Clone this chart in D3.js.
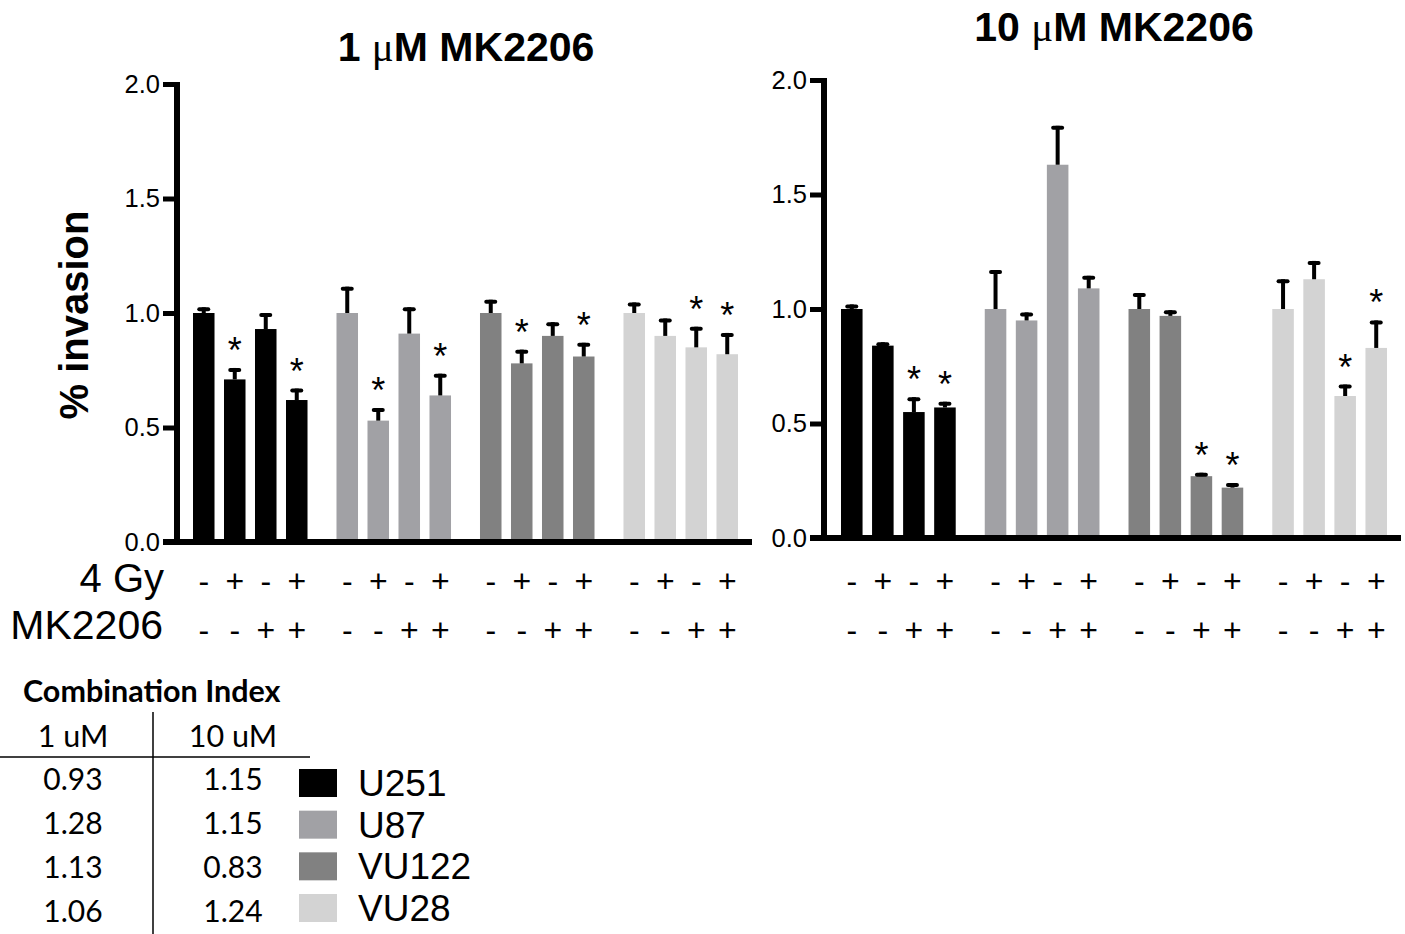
<!DOCTYPE html>
<html>
<head>
<meta charset="utf-8">
<script src="https://cdn.jsdelivr.net/npm/d3@7"></script>
<style>
  html, body { margin: 0; padding: 0; background: #fff; }
  svg { display: block; }
</style>
</head>
<body>
<svg id="chart" width="1405" height="934"></svg>
<script>
// cell lines and treatment rows
const cellLines = ["U251", "U87", "VU122", "VU28"];
const gyRow = ["-", "+", "-", "+"];
const mkRow = ["-", "-", "+", "+"];
const yTicks = [0.0, 0.5, 1.0, 1.5, 2.0];

// 1 uM MK2206: mean and upper error per cell line (4 conditions each)
const mean1uM = [
  [1.00, 0.71, 0.93, 0.62],
  [1.00, 0.53, 0.91, 0.64],
  [1.00, 0.78, 0.90, 0.81],
  [1.00, 0.90, 0.85, 0.82]
];
const err1uM = [
  [0.025, 0.05, 0.07, 0.05],
  [0.115, 0.055, 0.115, 0.095],
  [0.058, 0.06, 0.06, 0.06],
  [0.046, 0.076, 0.09, 0.093]
];
const star1uM = [
  [0, 1, 0, 1],
  [0, 1, 0, 1],
  [0, 1, 0, 1],
  [0, 0, 1, 1]
];

// 10 uM MK2206
const mean10uM = [
  [1.00, 0.84, 0.55, 0.57],
  [1.00, 0.95, 1.63, 1.09],
  [1.00, 0.97, 0.27, 0.22],
  [1.00, 1.13, 0.62, 0.83]
];
const err10uM = [
  [0.02, 0.015, 0.065, 0.025],
  [0.17, 0.035, 0.17, 0.055],
  [0.07, 0.025, 0.015, 0.02],
  [0.13, 0.08, 0.05, 0.12]
];
const star10uM = [
  [0, 0, 1, 1],
  [0, 0, 0, 0],
  [0, 0, 1, 1],
  [0, 0, 1, 1]
];

// combination index table
const ciHeaders = ["1 uM", "10 uM"];
const ci1uM = ["0.93", "1.28", "1.13", "1.06"];
const ci10uM = ["1.15", "1.15", "0.83", "1.24"];

const colors = ["#000000", "#a1a1a5", "#818181", "#d3d3d3"];
const sans = "'Liberation Sans', Arial, sans-serif";

const svg = d3.select("#chart");

function drawPanel(opt) {
  const g = svg.append("g");

  const y = d3.scaleLinear().domain([0, 2]).range([opt.y0, opt.y2]);

  const outer = d3.scaleBand()
    .domain(cellLines)
    .range([opt.x0, opt.x1])
    .paddingInner(0.202);

  const inner = d3.scaleBand()
    .domain(d3.range(4))
    .range([0, outer.bandwidth()])
    .paddingInner(0.306);

  const rows = [];
  cellLines.forEach((c, ci) => {
    d3.range(4).forEach(k => {
      rows.push({
        line: c, ci, k,
        value: opt.means[ci][k],
        err: opt.errs[ci][k],
        star: opt.stars[ci][k],
        x: outer(c) + inner(k)
      });
    });
  });

  const bw = inner.bandwidth();

  // bars
  g.selectAll("rect.bar").data(rows).join("rect")
    .attr("class", "bar")
    .attr("x", d => d.x)
    .attr("y", d => y(d.value))
    .attr("width", bw)
    .attr("height", d => y(0) - y(d.value))
    .attr("fill", d => colors[d.ci]);

  // error bars (upper only)
  g.selectAll("line.err").data(rows).join("line")
    .attr("class", "err")
    .attr("x1", d => d.x + bw / 2).attr("x2", d => d.x + bw / 2)
    .attr("y1", d => y(d.value))
    .attr("y2", d => y(d.value + d.err))
    .attr("stroke", "#000")
    .attr("stroke-width", 4);

  g.selectAll("line.cap").data(rows).join("line")
    .attr("class", "cap")
    .attr("x1", d => d.x + bw / 2 - 4.5).attr("x2", d => d.x + bw / 2 + 4.5)
    .attr("y1", d => y(d.value + d.err) + 2)
    .attr("y2", d => y(d.value + d.err) + 2)
    .attr("stroke", "#000")
    .attr("stroke-linecap", "round")
    .attr("stroke-width", 4);

  // significance marks
  g.selectAll("text.star").data(rows.filter(d => d.star)).join("text")
    .attr("class", "star")
    .attr("x", d => d.x + bw / 2)
    .attr("y", d => y(d.value + d.err) - 5)
    .attr("text-anchor", "middle")
    .style("font-family", sans)
    .style("font-size", "36px")
    .text("*");

  // y axis
  const yAxis = d3.axisLeft(y)
    .tickValues(yTicks)
    .tickFormat(d3.format(".1f"))
    .tickSize(14)
    .tickSizeOuter(0)
    .tickPadding(3);

  const ax = g.append("g")
    .attr("transform", `translate(${opt.axisX},0)`)
    .call(yAxis);
  ax.select(".domain").attr("stroke-width", 6).attr("d", `M0,${opt.y0}V${opt.y2 - 2}`);
  ax.selectAll(".tick line").attr("stroke-width", 5);
  ax.selectAll(".tick text")
    .style("font-family", sans)
    .style("font-size", "25.5px")
    .attr("fill", "#000");

  // x axis baseline
  g.append("line")
    .attr("x1", opt.xStart).attr("x2", opt.xEnd)
    .attr("y1", y(0)).attr("y2", y(0))
    .attr("stroke", "#000")
    .attr("stroke-width", 6);

  // treatment signs
  g.selectAll("text.gy").data(rows).join("text")
    .attr("class", "gy")
    .attr("x", d => d.x + bw / 2)
    .attr("y", 592)
    .attr("text-anchor", "middle")
    .style("font-family", sans)
    .style("font-size", "32px")
    .text(d => gyRow[d.k]);

  g.selectAll("text.mk").data(rows).join("text")
    .attr("class", "mk")
    .attr("x", d => d.x + bw / 2)
    .attr("y", 641)
    .attr("text-anchor", "middle")
    .style("font-family", sans)
    .style("font-size", "32px")
    .text(d => mkRow[d.k]);

  // title
  const t = g.append("text")
    .attr("x", opt.titleX)
    .attr("y", opt.titleY)
    .attr("text-anchor", "middle")
    .style("font-family", sans)
    .style("font-weight", "bold")
    .style("font-size", "41px");
  t.append("tspan").text(opt.dose + " ");
  t.append("tspan")
    .style("font-family", "'Liberation Serif', 'DejaVu Serif', serif")
    .style("font-weight", "normal")
    .text("\u03bc");
  t.append("tspan").text("M MK2206");
}

drawPanel({
  means: mean1uM, errs: err1uM, stars: star1uM,
  x0: 193, x1: 738, y0: 542, y2: 84,
  axisX: 177, xStart: 163, xEnd: 752,
  dose: "1", titleX: 466, titleY: 61
});

drawPanel({
  means: mean10uM, errs: err10uM, stars: star10uM,
  x0: 841, x1: 1387, y0: 538, y2: 80,
  axisX: 824, xStart: 810, xEnd: 1401,
  dose: "10", titleX: 1114, titleY: 41
});

// y label
svg.append("text")
  .attr("transform", "translate(88,315) rotate(-90)")
  .attr("text-anchor", "middle")
  .style("font-family", sans)
  .style("font-weight", "bold")
  .style("font-size", "40px")
  .text("% invasion");

// row labels
svg.append("text")
  .attr("x", 164).attr("y", 592)
  .attr("text-anchor", "end")
  .style("font-family", sans)
  .style("font-size", "40px")
  .text("4 Gy");
svg.append("text")
  .attr("x", 163).attr("y", 639)
  .attr("text-anchor", "end")
  .style("font-family", sans)
  .style("font-size", "41px")
  .text("MK2206");

// combination index table
const tbl = svg.append("g");
const calib = "Lato, 'Open Sans', sans-serif";
tbl.append("text")
  .attr("x", 23).attr("y", 702)
  .style("font-family", calib)
  .style("font-weight", "bold")
  .style("font-size", "30.5px")
  .text("Combination Index");

tbl.append("line")
  .attr("x1", 153).attr("x2", 153).attr("y1", 712).attr("y2", 934)
  .attr("stroke", "#000").attr("stroke-width", 1.5);
tbl.append("line")
  .attr("x1", 0).attr("x2", 310).attr("y1", 757).attr("y2", 757)
  .attr("stroke", "#000").attr("stroke-width", 1.5);

const colX = [73, 233];
tbl.selectAll("text.hdr").data(ciHeaders).join("text")
  .attr("class", "hdr")
  .attr("x", (d, i) => colX[i]).attr("y", 747)
  .attr("text-anchor", "middle")
  .style("font-family", calib)
  .style("font-size", "30.5px")
  .text(d => d);

const rowY = d3.scalePoint().domain(d3.range(4)).range([790, 922]);
[ci1uM, ci10uM].forEach((col, ci) => {
  tbl.selectAll(`text.ci${ci}`).data(col).join("text")
    .attr("class", `ci${ci}`)
    .attr("x", colX[ci])
    .attr("y", (d, i) => rowY(i))
    .attr("text-anchor", "middle")
    .style("font-family", calib)
    .style("font-size", "30px")
    .text(d => d);
});

// legend
const legY = d3.scalePoint().domain(cellLines).range([769, 894]);
const leg = svg.append("g");
leg.selectAll("rect").data(cellLines).join("rect")
  .attr("x", 299).attr("y", d => legY(d))
  .attr("width", 38).attr("height", 28)
  .attr("fill", (d, i) => colors[i]);
leg.selectAll("text").data(cellLines).join("text")
  .attr("x", 358).attr("y", d => legY(d) + 27)
  .style("font-family", sans)
  .style("font-size", "37px")
  .text(d => d);
</script>
</body>
</html>
